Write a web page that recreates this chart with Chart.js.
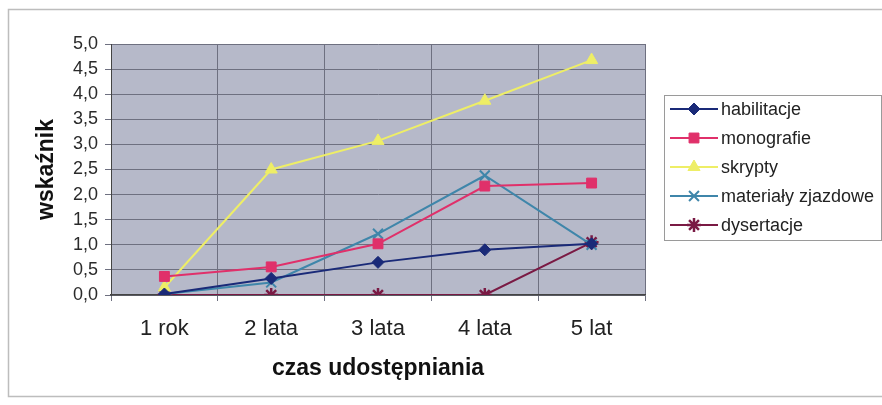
<!DOCTYPE html>
<html>
<head>
<meta charset="utf-8">
<script src="https://cdn.jsdelivr.net/npm/chart.js@4/dist/chart.umd.min.js"></script>
<style>
  html, body { margin: 0; padding: 0; background: #fff; }
  canvas { display: block; }
</style>
</head>
<body>
<canvas id="chart" width="882" height="405"></canvas>
<script>
const categories = ['1 rok', '2 lata', '3 lata', '4 lata', '5 lat']
const habilitacje = [0.02, 0.33, 0.65, 0.9, 1.02]
const monografie = [0.37, 0.56, 1.02, 2.17, 2.23]
const skrypty = [0.15, 2.5, 3.07, 3.87, 4.68]
const materialy = [0.02, 0.25, 1.22, 2.38, 1.0]
const dysertacje = [0, 0, 0, 0, 1.05]

const font = '"Liberation Sans", Arial, sans-serif'

// grey plot area + outer frame
const backdrop = {
  id: 'backdrop',
  beforeDraw(chart) {
    const { ctx, chartArea: a } = chart
    ctx.save()
    ctx.strokeStyle = '#bdbdbd'
    ctx.lineWidth = 1.5
    ctx.beginPath()
    ctx.moveTo(882, 9.5)
    ctx.lineTo(8.5, 9.5)
    ctx.lineTo(8.5, 396.5)
    ctx.lineTo(882, 396.5)
    ctx.stroke()
    ctx.fillStyle = '#b6b9c9'
    ctx.fillRect(a.left, a.top, a.right - a.left, a.bottom - a.top)
    ctx.restore()
  },
}

// excel-style legend box with line + marker
const boxLegend = {
  id: 'boxLegend',
  afterDraw(chart) {
    const { ctx } = chart
    ctx.save()
    ctx.fillStyle = '#fff'
    ctx.fillRect(664, 95, 217, 145)
    ctx.strokeStyle = '#9a9a9a'
    ctx.lineWidth = 1
    ctx.strokeRect(664.5, 95.5, 217, 145)
    chart.data.datasets.forEach((ds, i) => {
      const y = 109 + i * 29
      ctx.strokeStyle = ds.borderColor
      ctx.lineWidth = 2
      ctx.beginPath()
      ctx.moveTo(670, y)
      ctx.lineTo(718, y)
      ctx.stroke()
      ctx.fillStyle = ds.pointBackgroundColor
      ctx.strokeStyle = ds.pointBorderColor
      ctx.lineWidth = ds.pointBorderWidth
      Chart.helpers.drawPoint(ctx, { pointStyle: ds.pointStyle, radius: ds.pointRadius, rotation: 0, borderWidth: ds.pointBorderWidth }, 694, y)
      ctx.fillStyle = '#222'
      ctx.font = '18px ' + font
      ctx.textBaseline = 'middle'
      ctx.fillText(ds.label, 721, y + 1)
    })
    ctx.restore()
  },
}

function series(label, data, color, style, radius, bw) {
  return {
    label,
    data,
    borderColor: color,
    backgroundColor: color,
    pointBackgroundColor: color,
    pointBorderColor: color,
    pointStyle: style,
    pointRadius: radius,
    pointBorderWidth: bw,
    borderWidth: 2,
    tension: 0,
  }
}

new Chart(document.getElementById('chart'), {
  type: 'line',
  data: {
    labels: categories,
    datasets: [
      series('habilitacje', habilitacje, '#1a2a78', 'rectRot', 6, 1),
      series('monografie', monografie, '#e0306a', 'rect', 7, 1),
      series('skrypty', skrypty, '#eeee66', 'triangle', 7, 1),
      series('materiały zjazdowe', materialy, '#3f86aa', 'crossRot', 7, 2),
      series('dysertacje', dysertacje, '#7a1a44', 'star', 7, 2.5),
    ],
  },
  options: {
    responsive: false,
    animation: false,
    layout: { padding: { left: 26, right: 237, top: 44, bottom: 20 } },
    plugins: {
      legend: { display: false },
      tooltip: { enabled: false },
    },
    scales: {
      x: {
        offset: true,
        grid: { offset: true, color: '#6e7080', lineWidth: 1, tickLength: 6, drawOnChartArea: true },
        border: { color: '#444', width: 1.5 },
        ticks: { color: '#222', font: { family: font, size: 22 }, padding: 15 },
        title: { display: true, text: 'czas udostępniania', color: '#111', font: { family: font, size: 23, weight: 'bold' }, padding: { top: 2, bottom: 3 } },
        afterFit(scale) { scale.height = 90 },
      },
      y: {
        min: 0,
        max: 5,
        ticks: { stepSize: 0.5, color: '#2a2a2a', font: { family: font, size: 18 }, padding: 7, callback: v => v.toFixed(1).replace('.', ',') },
        grid: { color: '#6e7080', lineWidth: 1, tickLength: 6 },
        border: { color: '#444', width: 1 },
        title: { display: true, text: 'wskaźnik', color: '#111', font: { family: font, size: 23, weight: 'bold' }, padding: { top: 7, bottom: 2 } },
        afterFit(scale) { scale.width = 85 },
      },
    },
  },
  plugins: [backdrop, boxLegend],
})
</script>
</body>
</html>
